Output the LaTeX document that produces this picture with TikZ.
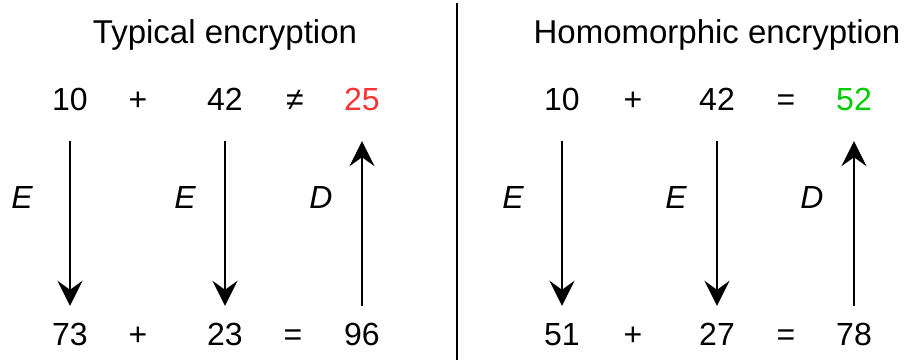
\documentclass[tikz,border=0pt]{standalone}
\usepackage{fontspec}
\setmainfont{Liberation Sans}
\usetikzlibrary{arrows.meta}
\definecolor{badred}{RGB}{255,51,51}
\definecolor{goodgreen}{RGB}{0,204,0}
\begin{document}
\begin{tikzpicture}[x=1pt,y=1pt,
  txt/.style={inner sep=0pt, font=\fontsize{32}{38}\selectfont},
  title/.style={inner sep=0pt, anchor=base, font=\fontsize{33}{40}\selectfont},
  num/.style={txt, anchor=base, text height=23pt, text depth=0pt},
  lbl/.style={txt, font=\fontsize{32}{38}\selectfont\itshape, anchor=base},
  arr/.style={line width=2.7pt, -{Stealth[length=25pt,width=25pt,inset=9pt]}},
  downarr/.style={arr, shorten <=31pt, shorten >=16pt},
  uparr/.style={arr, shorten <=16pt, shorten >=31pt},
  divider/.style={line width=2.8pt}
]
\useasboundingbox (0,0) rectangle (906,-360);
% left panel
\node[title] (t1) at (225,-43) {Typical encryption};
\node[num] (a10) at (70,-110) {10};
\node[num] (ap1) at (138,-110) {+};
\node[num] (a42) at (225,-110) {42};
\node[num] (ane) at (295,-110) {≠};
\node[num, text=badred] (a25) at (362,-110) {25};
\node[num] (a73) at (70,-345) {73};
\node[num] (ap2) at (138,-345) {+};
\node[num] (a23) at (225,-345) {23};
\node[num] (aeq) at (293,-345) {=};
\node[num] (a96) at (362,-345) {96};
\node[lbl] (aE1) at (22,-208) {E};
\node[lbl] (aE2) at (185,-208) {E};
\node[lbl] (aD) at (321,-208) {D};
\draw[downarr] (a10.south) -- (a73.north);
\draw[downarr] (a42.south) -- (a23.north);
\draw[uparr] (a96.north) -- (a25.south);
% divider
\coordinate (dtop) at (457,-3);
\coordinate (dbot) at (457,-360);
\draw[divider] (dtop) -- (dbot);
% right panel
\node[title] (t2) at (717,-43) {Homomorphic encryption};
\node[num] (b10) at (562,-110) {10};
\node[num] (bp1) at (633,-110) {+};
\node[num] (b42) at (717,-110) {42};
\node[num] (beq1) at (786,-110) {=};
\node[num, text=goodgreen] (b52) at (854,-110) {52};
\node[num] (b51) at (562,-345) {51};
\node[num] (bp2) at (633,-345) {+};
\node[num] (b27) at (717,-345) {27};
\node[num] (beq2) at (786,-345) {=};
\node[num] (b78) at (854,-345) {78};
\node[lbl] (bE1) at (513,-208) {E};
\node[lbl] (bE2) at (676,-208) {E};
\node[lbl] (bD) at (812,-208) {D};
\draw[downarr] (b10.south) -- (b51.north);
\draw[downarr] (b42.south) -- (b27.north);
\draw[uparr] (b78.north) -- (b52.south);
\end{tikzpicture}
\end{document}
